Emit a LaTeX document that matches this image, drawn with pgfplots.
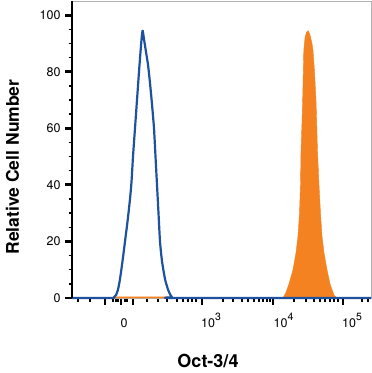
\documentclass[border=0pt]{standalone}
\usepackage{pgfplots}
\pgfplotsset{compat=1.18}
\usepackage{fontspec}
\setmainfont{TeX Gyre Heros}
\definecolor{cblue}{RGB}{31,82,158}
\definecolor{corange}{RGB}{245,130,32}
\newcommand{\tp}[1]{10\raisebox{7pt}{\fontsize{10.5}{10.5}\selectfont #1}}
\begin{document}
\begin{tikzpicture}[x=1pt,y=1pt]
\path[use as bounding box] (0,0) rectangle (372,373);
\begin{axis}[
  at={(72pt,75pt)}, anchor=south west,
  scale only axis, width=299pt, height=297pt,
  xmin=72, xmax=371, ymin=0, ymax=105,
  clip=false,
  axis line style={draw=gray!60, line width=0.8pt},
  tick align=outside,
  xtick pos=bottom, ytick pos=left,
  ytick={0,20,40,60,80,100},
  minor y tick num=3,
  xtick={105,121,133,202,273,343},
  xticklabels={},
  minor xtick={78,90,113,116,118,125,127,147,158,167,177,183,188,192,196,223,233,242,248,254,259,263,267,270,294,306,314,320,325,330,334,338,362,368},
  extra x ticks={124,211,283.5,352},
  extra x tick labels={0,\tp{3},\tp{4},\tp{5}},
  extra x tick style={major tick length=0pt, xticklabel style={anchor=base, yshift=-29pt}},
  major tick length=7pt,
  minor tick length=3.5pt,
  major tick style={black, line width=2.8pt},
  minor tick style={black, line width=1.4pt},
  ticklabel style={font=\fontsize{12.5}{12.5}\selectfont},
  /pgf/number format/assume math mode=true,
  yticklabel style={xshift=-1pt},
]
\addplot[fill=corange, draw=corange, line width=0.4pt] coordinates {
(72,0) (114,0) (115,0.4) (168,0.4) (169,0) (283,0) (286,2) (289,5) (293,10)
(296,16) (298,22) (299.5,30) (300.5,40) (301,52) (302,62) (302.8,72) (303.3,80)
(303.8,87.6) (305,92) (306.5,94) (308.3,94.5) (310,93) (312,90) (313,87.6)
(314.5,80) (316,70) (317.5,52) (319,40) (320.5,30) (322,22) (324,16) (327,10)
(330,5) (334,1) (337,0) (371,0)
} \closedcycle;
\addplot[cblue, line width=2.2pt, line join=round, smooth, tension=0.35] coordinates {
(72,0) (112,0) (114,0.3) (116,1) (118,3) (120,6.7) (122.5,13) (125,20) (127.5,27) (130,35)
(131.5,41) (133,50) (135,60) (137,70) (139,80) (140.5,87) (141.8,92.5) (142.7,94.5)
(144,91.5) (146,87) (148,82.5) (150,76) (152,68.5) (154,60) (155.5,50) (157,40) (158.5,30)
(160,20) (162,13) (165,6.7) (168,3) (170.5,1) (172,0.3) (174,0) (371,0)
};
\draw[black, line width=1.2pt] (rel axis cs:0,1) -- (rel axis cs:0,0);
\end{axis}
\node[rotate=90, font=\bfseries\fontsize{17.5}{17.5}\selectfont] at (12.5,206) {Relative Cell Number};
\node[anchor=base, font=\bfseries\fontsize{18}{18}\selectfont] at (208,5.5) {Oct-3/4};
\end{tikzpicture}
\end{document}
